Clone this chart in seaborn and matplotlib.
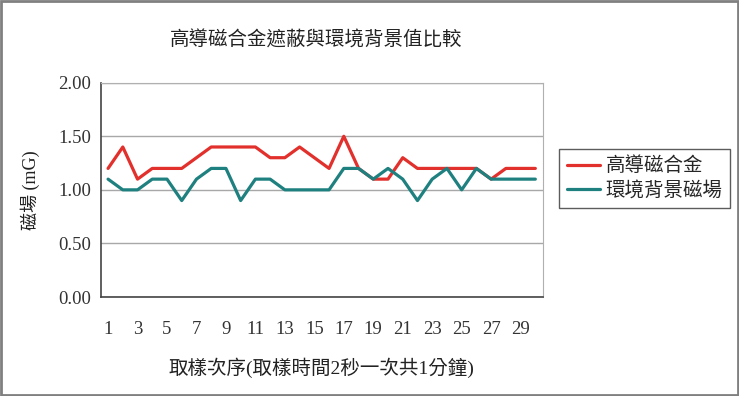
import numpy as np
import pandas as pd
import matplotlib
matplotlib.use("Agg")
import matplotlib.pyplot as plt
import seaborn as sns
from matplotlib.patches import Rectangle

# data
samples = list(range(1, 31))
alloy = [1.2, 1.4, 1.1, 1.2, 1.2, 1.2, 1.3, 1.4, 1.4, 1.4, 1.4, 1.3, 1.3, 1.4, 1.3,
         1.2, 1.5, 1.2, 1.1, 1.1, 1.3, 1.2, 1.2, 1.2, 1.2, 1.2, 1.1, 1.2, 1.2, 1.2]
background = [1.1, 1.0, 1.0, 1.1, 1.1, 0.9, 1.1, 1.2, 1.2, 0.9, 1.1, 1.1, 1.0, 1.0, 1.0,
              1.0, 1.2, 1.2, 1.1, 1.2, 1.1, 0.9, 1.1, 1.2, 1.0, 1.2, 1.1, 1.1, 1.1, 1.1]
series_names = ["高導磁合金", "環境背景磁場"]
y_ticks = [0.0, 0.5, 1.0, 1.5, 2.0]

df = pd.DataFrame({
    "sample": samples * 2,
    "value": alloy + background,
    "series": [series_names[0]] * len(samples) + [series_names[1]] * len(samples),
})

sns.set_style("white")
fonts = ["Liberation Serif", "Noto Sans CJK TC"]
plt.rcParams["font.family"] = fonts

fig = plt.figure(figsize=(7.39, 3.96), dpi=100)
ax = fig.add_axes([100.7 / 739, 1 - 297 / 396, 442 / 739, 214.3 / 396])

sns.lineplot(data=df, x="sample", y="value", hue="series",
             palette=["#e2302c", "#1f8080"], linewidth=2.3, ax=ax, legend=True)

ax.set_xlim(0.5, 30.5)
ax.set_ylim(0, 2.0)
ax.set_yticks(y_ticks)
ax.set_yticklabels([f"{v:.2f}" for v in y_ticks], fontsize=13.5, color="#333333")
ax.set_xticks(samples[::2])
ax.set_xticklabels([str(s) for s in samples[::2]], fontsize=13.5, color="#333333")
ax.set_xticks(np.arange(0.5, 31, 1), minor=True)
ax.tick_params(axis="x", which="major", length=0, pad=17)
ax.tick_params(axis="x", which="minor", direction="in", length=4, color="#444444")
ax.tick_params(axis="y", direction="out", length=4, color="#444444", pad=3)

ax.yaxis.grid(True, color="#a8a8a8", linewidth=1)
ax.set_axisbelow(True)
for side in ["top", "right"]:
    ax.spines[side].set_color("#b0b0b0")
for side in ["left", "bottom"]:
    ax.spines[side].set_color("#444444")
    ax.spines[side].set_linewidth(1.2)

ax.set_xlabel("取樣次序(取樣時間2秒一次共1分鐘)", fontsize=14, labelpad=14, color="#222222")
ax.set_ylabel("磁場 (mG)", fontsize=13, labelpad=13, color="#222222")
fig.text(316 / 739, 1 - 40 / 396, "高導磁合金遮蔽與環境背景值比較",
         ha="center", va="center", fontsize=14, color="#222222")

leg = ax.legend(loc="upper left", bbox_to_anchor=(559 / 739, 1 - 149 / 396),
                bbox_transform=fig.transFigure, frameon=True, fancybox=False,
                fontsize=14, handlelength=1.7, borderpad=0.4, labelspacing=0.3,
                handletextpad=0.3, borderaxespad=0)
leg.get_frame().set_edgecolor("#333333")
leg.get_frame().set_linewidth(1)

fig.patches.append(Rectangle((0.002, 0.003), 0.996, 0.994, transform=fig.transFigure,
                             fill=False, edgecolor="#808080", linewidth=2))

fig.savefig("out.png", dpi=100)
